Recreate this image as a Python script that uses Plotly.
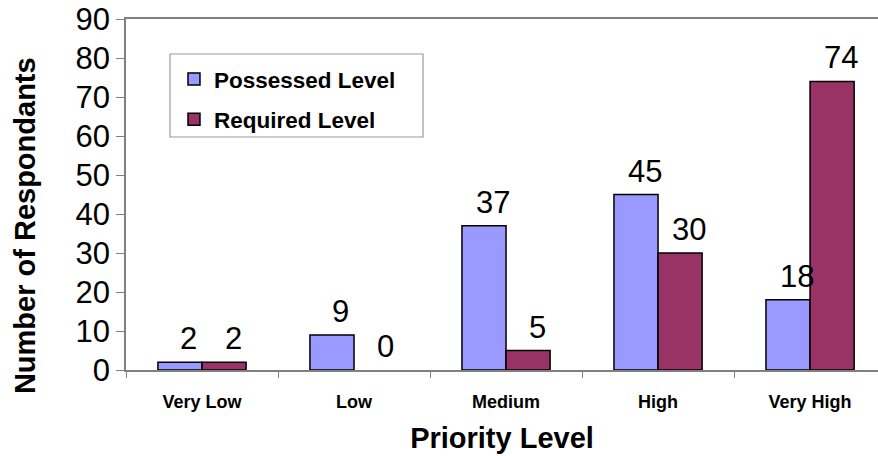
import plotly.graph_objects as go

categories = ["Very Low", "Low", "Medium", "High", "Very High"]
possessed = [2, 9, 37, 45, 18]
required = [2, 0, 5, 30, 74]
series_names = ["Possessed Level", "Required Level"]
y_ticks = [0, 10, 20, 30, 40, 50, 60, 70, 80, 90]

FONT = "Arial, Liberation Sans, sans-serif"
BARGAP = 0.42
COLORS = ["#9999FF", "#993366"]

fig = go.Figure()
for i, (vals, name) in enumerate([(possessed, series_names[0]), (required, series_names[1])]):
    fig.add_trace(go.Bar(
        x=categories, y=vals, name=name, legendgroup=name,
        marker=dict(color=COLORS[i],
                    line=dict(color="black", width=[1.5 if v > 0 else 0 for v in vals])),
        cliponaxis=False,
    ))

# value labels above each bar (positions derived from the data and the bar gap)
half = (1 - BARGAP) / 4
annotations = []
for s, vals in enumerate([possessed, required]):
    for i, v in enumerate(vals):
        annotations.append(dict(
            x=i + (-half if s == 0 else half), y=v, xref="x", yref="y",
            text=str(v), showarrow=False, xanchor="center", yanchor="bottom",
            xshift=9, yshift=4,
            font=dict(family=FONT, size=31, color="black"),
        ))

annotations.append(dict(
    x=-0.1343, y=0.41, xref="paper", yref="paper",
    text="<b>Number of Respondants</b>", textangle=-90, showarrow=False,
    xanchor="center", yanchor="middle",
    font=dict(family=FONT, size=29, color="black"),
))

fig.update_layout(
    width=878, height=456,
    margin=dict(l=126, r=0, t=19, b=86),
    paper_bgcolor="white", plot_bgcolor="white",
    barmode="group", bargap=BARGAP, bargroupgap=0,
    font=dict(family=FONT, color="black"),
    showlegend=True,
    legend=dict(
        x=0.0638, y=0.889, xanchor="left", yanchor="top",
        bgcolor="rgba(0,0,0,0)", borderwidth=0,
        font=dict(family=FONT, size=22.5, color="black", weight="bold"),
        itemwidth=30, tracegroupgap=8,
    ),
    shapes=[dict(
        type="rect", xref="paper", yref="paper",
        x0=(170 - 126) / 752, x1=(423 - 126) / 752,
        y0=(370 - 137) / 351, y1=(370 - 54) / 351,
        line=dict(color="#9a9a9a", width=1.2), fillcolor="white", layer="below",
    )],
    annotations=annotations,
    xaxis=dict(
        range=[-0.5, 4.447],
        showline=True, linecolor="#808080", linewidth=1.5, mirror=True,
        ticks="outside", tickson="boundaries", ticklen=6, tickcolor="#808080",
        ticklabelstandoff=15,
        tickfont=dict(family=FONT, size=18, color="black", weight="bold"),
        title=dict(text="Priority Level", font=dict(family=FONT, size=29, weight="bold"), standoff=16),
        showgrid=False,
    ),
    yaxis=dict(
        range=[0, 90], tickvals=y_ticks,
        showline=True, linecolor="#808080", linewidth=1.5,
        ticks="outside", ticklen=8, tickcolor="#808080",
        tickfont=dict(family=FONT, size=31, color="black"),
        showgrid=False, zeroline=False,
    ),
)

fig.write_html(
    "out.html",
    config={"displayModeBar": False},
    post_script="document.body.style.margin='0';document.body.style.overflow='hidden';",
)
